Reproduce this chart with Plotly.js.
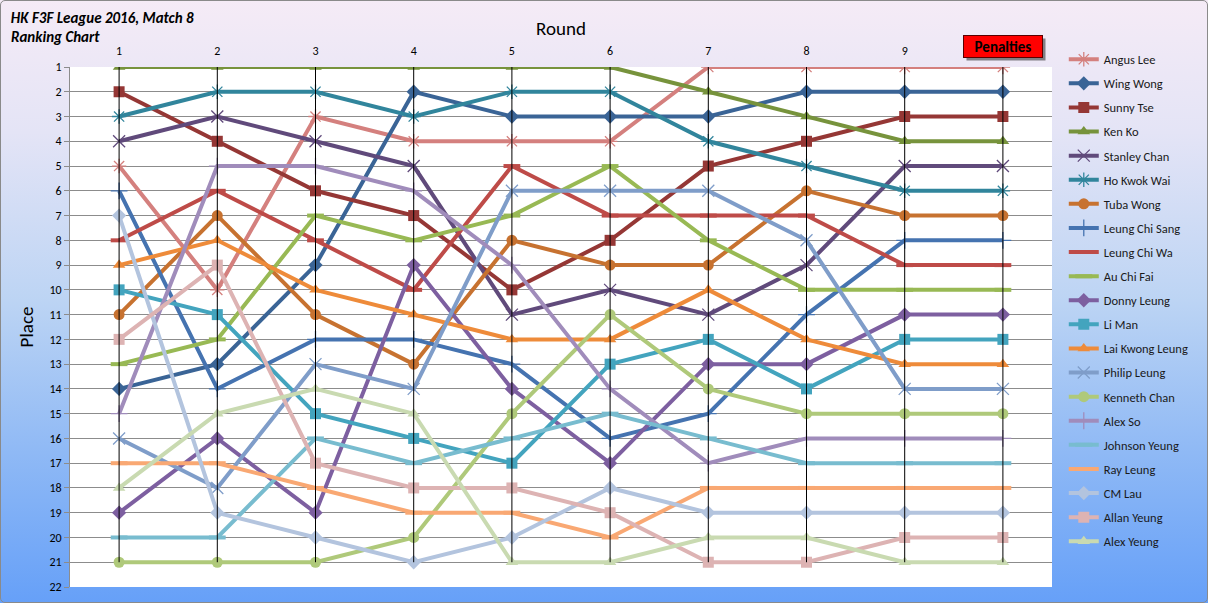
<!DOCTYPE html>
<html><head><meta charset="utf-8">
<script src="https://cdn.plot.ly/plotly-3.0.1.min.js"></script>
<style>
html,body{margin:0;padding:0;background:#fff;}
#wrap{position:relative;width:1208px;height:603px;overflow:hidden;
 background:linear-gradient(to bottom,#F5EBF6 0%,#E4E4F6 22%,#BCD4F4 50%,#8FB9F5 75%,#66A0F8 100%);}
#chart{position:absolute;left:0;top:0;width:1208px;height:603px;}
#frame{position:absolute;left:0;top:0;width:1206px;height:601px;border:1px solid #8a8a8a;border-radius:5px;pointer-events:none;}
</style></head>
<body><div id="wrap"><div id="chart"></div><div id="frame"></div></div>
<script>
// ---- data ----
const rounds = [1,2,3,4,5,6,7,8,9,10];
const roundTickLabels = ['1','2','3','4','5','6','7','8','9'];
const penaltiesLabel = 'Penalties';
const chartTitle = 'HK F3F League 2016, Match 8';
const chartSubtitle = 'Ranking Chart';
const places = [1,2,3,4,5,6,7,8,9,10,11,12,13,14,15,16,17,18,19,20,21,22];
const pilots = ['Angus Lee','Wing Wong','Sunny Tse','Ken Ko','Stanley Chan','Ho Kwok Wai','Tuba Wong',
  'Leung Chi Sang','Leung Chi Wa','Au Chi Fai','Donny Leung','Li Man','Lai Kwong Leung','Philip Leung',
  'Kenneth Chan','Alex So','Johnson Yeung','Ray Leung','CM Lau','Allan Yeung','Alex Yeung'];
const angusLee      = [5,10,3,4,4,4,1,1,1,1];
const wingWong      = [14,13,9,2,3,3,3,2,2,2];
const sunnyTse      = [2,4,6,7,10,8,5,4,3,3];
const kenKo         = [1,1,1,1,1,1,2,3,4,4];
const stanleyChan   = [4,3,4,5,11,10,11,9,5,5];
const hoKwokWai     = [3,2,2,3,2,2,4,5,6,6];
const tubaWong      = [11,7,11,13,8,9,9,6,7,7];
const leungChiSang  = [6,14,12,12,13,16,15,11,8,8];
const leungChiWa    = [8,6,8,10,5,7,7,7,9,9];
const auChiFai      = [13,12,7,8,7,5,8,10,10,10];
const donnyLeung    = [19,16,19,9,14,17,13,13,11,11];
const liMan         = [10,11,15,16,17,13,12,14,12,12];
const laiKwongLeung = [9,8,10,11,12,12,10,12,13,13];
const philipLeung   = [16,18,13,14,6,6,6,8,14,14];
const kennethChan   = [21,21,21,20,15,11,14,15,15,15];
const alexSo        = [15,5,5,6,9,14,17,16,16,16];
const johnsonYeung  = [20,20,16,17,16,15,16,17,17,17];
const rayLeung      = [17,17,18,19,19,20,18,18,18,18];
const cmLau         = [7,19,20,21,20,18,19,19,19,19];
const allanYeung    = [12,9,17,18,18,19,21,21,20,20];
const alexYeung     = [18,15,14,15,21,21,20,20,21,21];
const series = [angusLee,wingWong,sunnyTse,kenKo,stanleyChan,hoKwokWai,tubaWong,leungChiSang,leungChiWa,
  auChiFai,donnyLeung,liMan,laiKwongLeung,philipLeung,kennethChan,alexSo,johnsonYeung,rayLeung,cmLau,
  allanYeung,alexYeung];

// ---- styles ----
const styles = [
 {c:'#D4807E', s:'asterisk-open'},
 {c:'#3A6496', s:'diamond'},
 {c:'#953735', s:'square'},
 {c:'#77933C', s:'triangle-up'},
 {c:'#604A7B', s:'x-thin-open'},
 {c:'#31859C', s:'asterisk-open'},
 {c:'#C77230', s:'circle'},
 {c:'#4573B0', s:'cross-thin-open'},
 {c:'#BE4B48', s:'line-ew-open'},
 {c:'#98B954', s:'line-ew-open'},
 {c:'#7D5FA0', s:'diamond'},
 {c:'#43A4BE', s:'square'},
 {c:'#EE8B3A', s:'triangle-up'},
 {c:'#7F9DC9', s:'x-thin-open'},
 {c:'#AFC97A', s:'circle'},
 {c:'#A08CBB', s:'cross-thin-open'},
 {c:'#78BCCF', s:'line-ew-open'},
 {c:'#F9A873', s:'line-ew-open'},
 {c:'#B3C4DE', s:'diamond'},
 {c:'#DDB3B3', s:'square'},
 {c:'#C9DAB1', s:'triangle-up'}
];

const traces = series.map((vals,i)=>{
  const st = styles[i];
  const open = st.s.indexOf('open')>=0;
  const isDash = st.s==='line-ew-open';
  return {
    type:'scatter', mode:'lines+markers', x:rounds, y:vals, name:pilots[i], legendgroup:pilots[i],
    line:{color:st.c, width:4},
    marker:{symbol:st.s, size: isDash?12:(open?12:11), color:st.c,
      line:{color:st.c, width: isDash?4:(open?1.3:0)}},
    hoverinfo:'name+y'
  };
});

// high-low lines computed from the data
const hlX=[], hlY=[];
rounds.forEach((r,k)=>{
  const col = series.map(s=>s[k]);
  hlX.push(r,r,null); hlY.push(Math.min(...col),Math.max(...col),null);
});
traces.push({type:'scatter', mode:'lines', x:hlX, y:hlY, line:{color:'#000000', width:1},
  showlegend:false, hoverinfo:'skip'});

const layout = {
  width:1208, height:603,
  paper_bgcolor:'rgba(0,0,0,0)', plot_bgcolor:'#FFFFFF',
  margin:{l:70, r:156, t:67, b:16, pad:0},
  font:{family:'Carlito, Calibri, Lato, sans-serif', color:'#000', size:12},
  title:{text:'<b><i>'+chartTitle+'</i></b>',
    x:0.009, xanchor:'left', xref:'container', y:1-18/603, yanchor:'middle', yref:'container',
    font:{size:15, color:'#000'}},
  xaxis:{range:[0.5,10.5], side:'top', tickvals:rounds.slice(0,9), ticktext:roundTickLabels,
    showgrid:false, zeroline:false, showline:false, ticks:'', ticklabelstandoff:9, tickfont:{size:12},
    title:{text:'Round', font:{size:19}, standoff:2}, fixedrange:true},
  yaxis:{range:[22,1], tickvals:places, showgrid:true, gridcolor:'#8C8C8C', gridwidth:1,
    zeroline:false, showline:true, linecolor:'#8C8C8C', ticks:'outside', ticklen:5, tickcolor:'#8C8C8C',
    tickfont:{size:12}, title:{text:'Place', font:{size:19}, standoff:10}, fixedrange:true},
  legend:{x:1.012, xanchor:'left', y:1.043, yanchor:'top', bgcolor:'rgba(0,0,0,0)',
    font:{size:12.5, color:'#1a1a1a'}, tracegroupgap:4.85, maxheight:590, itemclick:false, itemdoubleclick:false},
  annotations:[
    {xref:'paper', x:-61/982, xanchor:'left', yref:'paper', y:1+(67-37)/520, yanchor:'middle',
     text:'<b><i>'+chartSubtitle+'</i></b>', showarrow:false, font:{size:15, color:'#000'}},
    {xref:'x', x:10, yref:'paper', y:1.0385, yanchor:'middle', xshift:3, yshift:-3, text:' ',
     showarrow:false, bgcolor:'rgba(40,40,40,0.55)', width:76, height:19},
    {xref:'x', x:10, yref:'paper', y:1.0385, yanchor:'middle', text:'<b>'+penaltiesLabel+'</b>',
     showarrow:false, bgcolor:'#FF0000', bordercolor:'#5a0000', borderwidth:1, width:76, height:19,
     font:{size:15, color:'#000'}}
  ],
  showlegend:true
};

Plotly.newPlot('chart', traces, layout, {displayModeBar:false});
</script>
</body></html>
